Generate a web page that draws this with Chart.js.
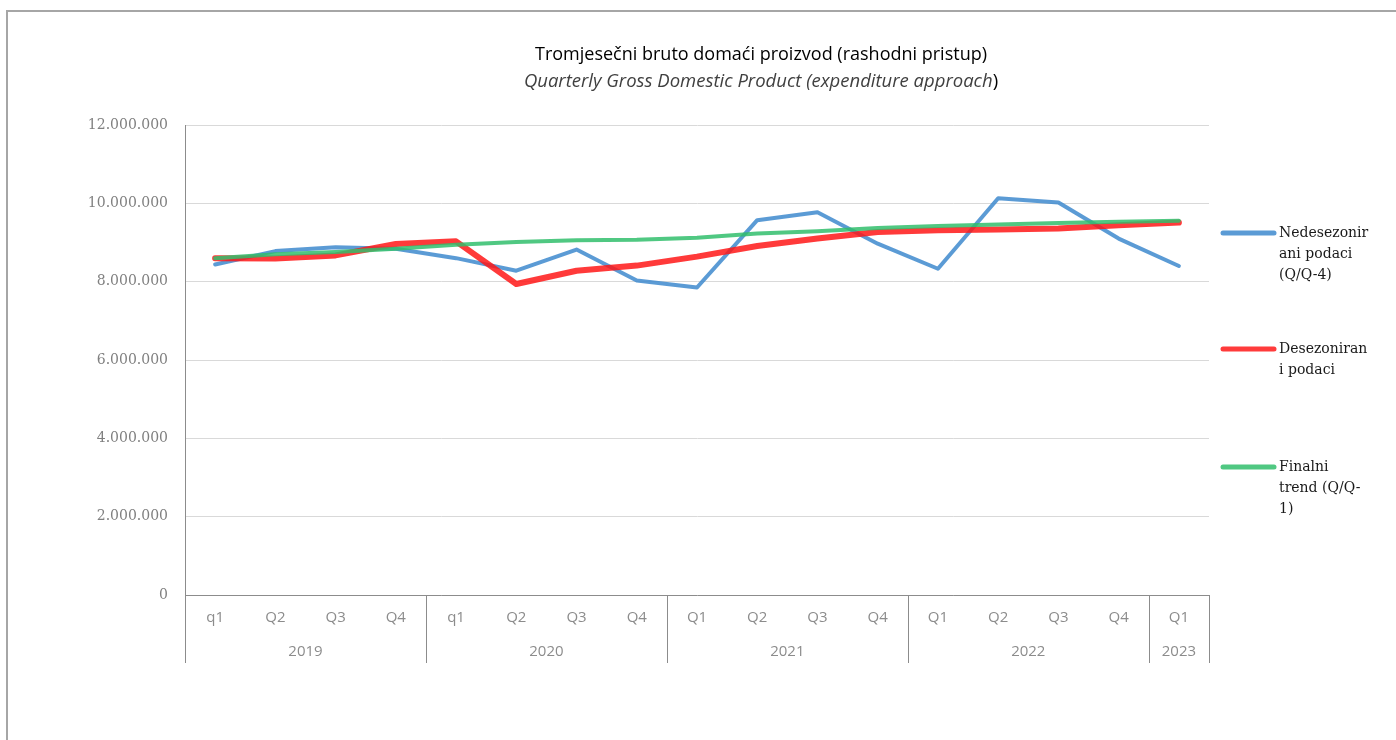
<!DOCTYPE html>
<html>
<head>
<meta charset="utf-8">
<script src="https://cdn.jsdelivr.net/npm/chart.js@4.4.1/dist/chart.umd.min.js"></script>
<style>
  body { margin: 0; background: #fff; }
  #wrap { position: relative; width: 1396px; height: 740px; }
  #frame { position: absolute; left: 6px; top: 10px; right: 0; bottom: 0;
           border-top: 2px solid #a6a6a6; border-left: 2px solid #a6a6a6; }
  canvas { position: absolute; left: 0; top: 0; }
</style>
</head>
<body>
<div id="wrap">
  <div id="frame"></div>
  <canvas id="gdpChart"></canvas>
</div>
<script>
const quarters = ['q1','Q2','Q3','Q4','q1','Q2','Q3','Q4','Q1','Q2','Q3','Q4','Q1','Q2','Q3','Q4','Q1'];
const years = ['2019','2019','2019','2019','2020','2020','2020','2020','2021','2021','2021','2021','2022','2022','2022','2022','2023'];

const nedesezonirani = [8440000,8780000,8880000,8840000,8600000,8280000,8820000,8030000,7850000,9570000,9770000,8970000,8330000,10130000,10020000,9100000,8400000];
const desezonirani = [8600000,8590000,8670000,8960000,9030000,7940000,8280000,8410000,8640000,8910000,9100000,9270000,9310000,9330000,9360000,9440000,9510000];
const finalniTrend = [8600000,8700000,8760000,8840000,8940000,9010000,9060000,9070000,9120000,9230000,9290000,9370000,9420000,9460000,9500000,9530000,9555000];

const legendLines = [
  ['Nedesezonir','ani podaci','(Q/Q-4)'],
  ['Desezoniran','i podaci'],
  ['Finalni','trend (Q/Q-','1)']
];
const yTicks = [0, 2000000, 4000000, 6000000, 8000000, 10000000, 12000000];

const fmt = v => v.toString().replace(/\B(?=(\d{3})+(?!\d))/g, '.');

// title, year groups and the side legend
const extras = {
  id: 'extras',
  afterDraw(chart) {
    const ctx = chart.ctx;
    const x = chart.scales.x;
    const area = chart.chartArea;
    ctx.save();

    // titles
    ctx.textAlign = 'center';
    ctx.textBaseline = 'middle';
    ctx.fillStyle = '#000';
    ctx.font = '18px "Open Sans"';
    ctx.fillText('Tromjesečni bruto domaći proizvod (rashodni pristup)', 761, 55);
    const sub = 'Quarterly Gross Domestic Product (expenditure approach';
    ctx.font = 'italic 18.5px "Open Sans"';
    const w1 = ctx.measureText(sub).width;
    ctx.font = '18.5px "Open Sans"';
    const w2 = ctx.measureText(')').width;
    const sx = 761 - (w1 + w2) / 2;
    ctx.textAlign = 'left';
    ctx.font = 'italic 18.5px "Open Sans"';
    ctx.fillStyle = '#404040';
    ctx.fillText(sub, sx, 82);
    ctx.font = '18.5px "Open Sans"';
    ctx.fillStyle = '#000';
    ctx.fillText(')', sx + w1, 82);

    // year groups under the quarter labels
    const half = (x.getPixelForValue(1) - x.getPixelForValue(0)) / 2;
    ctx.strokeStyle = '#8c8c8c';
    ctx.lineWidth = 1;
    ctx.fillStyle = '#8c8c8c';
    ctx.font = '15px "Open Sans"';
    ctx.textAlign = 'center';
    let start = 0;
    for (let i = 1; i <= years.length; i++) {
      if (i === years.length || years[i] !== years[start]) {
        const l = x.getPixelForValue(start) - half;
        const r = x.getPixelForValue(i - 1) + half;
        ctx.fillText(years[start], (l + r) / 2, area.bottom + 57);
        ctx.beginPath();
        ctx.moveTo(Math.round(l) + 0.5, area.bottom);
        ctx.lineTo(Math.round(l) + 0.5, area.bottom + 68);
        if (i === years.length) {
          ctx.moveTo(Math.round(r) + 0.5, area.bottom);
          ctx.lineTo(Math.round(r) + 0.5, area.bottom + 68);
        }
        ctx.stroke();
        start = i;
      }
    }

    // legend
    const legendY = [233, 349, 467];
    ctx.font = '14px "DejaVu Serif"';
    ctx.textAlign = 'left';
    chart.data.datasets.forEach((ds, i) => {
      const y = legendY[i];
      ctx.strokeStyle = ds.legendColor;
      ctx.lineWidth = 5;
      ctx.lineCap = 'round';
      ctx.beginPath();
      ctx.moveTo(1223, y);
      ctx.lineTo(1274, y);
      ctx.stroke();
      ctx.fillStyle = '#1a1a1a';
      legendLines[i].forEach((t, k) => ctx.fillText(t, 1279, y + k * 21));
    });
    ctx.restore();
  }
};

new Chart(document.getElementById('gdpChart'), {
  type: 'line',
  data: {
    labels: quarters,
    datasets: [{
      label: 'Nedesezonirani podaci (Q/Q-4)',
      data: nedesezonirani,
      borderColor: 'rgba(62,137,206,0.85)',
      legendColor: '#5b9bd5',
      borderWidth: 4,
      order: 3
    }, {
      label: 'Desezonirani podaci',
      data: desezonirani,
      borderColor: 'rgba(255,24,24,0.85)',
      legendColor: '#ff3b3b',
      borderWidth: 6,
      order: 2
    }, {
      label: 'Finalni trend (Q/Q-1)',
      data: finalniTrend,
      borderColor: 'rgba(49,190,108,0.85)',
      legendColor: '#50c882',
      borderWidth: 4,
      order: 1
    }]
  },
  options: {
    responsive: true,
    maintainAspectRatio: false,
    animation: false,
    devicePixelRatio: 1,
    elements: {
      point: { radius: 0, hoverRadius: 0 },
      line: { tension: 0, borderCapStyle: 'round', borderJoinStyle: 'round' }
    },
    layout: { padding: { top: 125, right: 187, left: 0, bottom: 0 } },
    plugins: {
      legend: { display: false },
      title: { display: false },
      tooltip: { enabled: false }
    },
    scales: {
      x: {
        offset: true,
        grid: { display: false, drawTicks: false },
        border: { display: true, color: '#8c8c8c', width: 1 },
        ticks: { color: '#8c8c8c', font: { family: 'Open Sans', size: 15 }, padding: 14, maxRotation: 0, autoSkip: false },
        afterFit(scale) { scale.height = 145; }
      },
      y: {
        min: 0,
        max: 12000000,
        afterBuildTicks(scale) { scale.ticks = yTicks.map(v => ({ value: v })); },
        grid: { color: '#d9d9d9', drawTicks: false },
        border: { display: true, color: '#8c8c8c', width: 1 },
        ticks: { color: '#808080', font: { family: 'DejaVu Serif', size: 14 }, padding: 17, callback: v => fmt(v) },
        afterFit(scale) { scale.width = 185; }
      }
    }
  },
  plugins: [extras]
});
</script>
</body>
</html>
